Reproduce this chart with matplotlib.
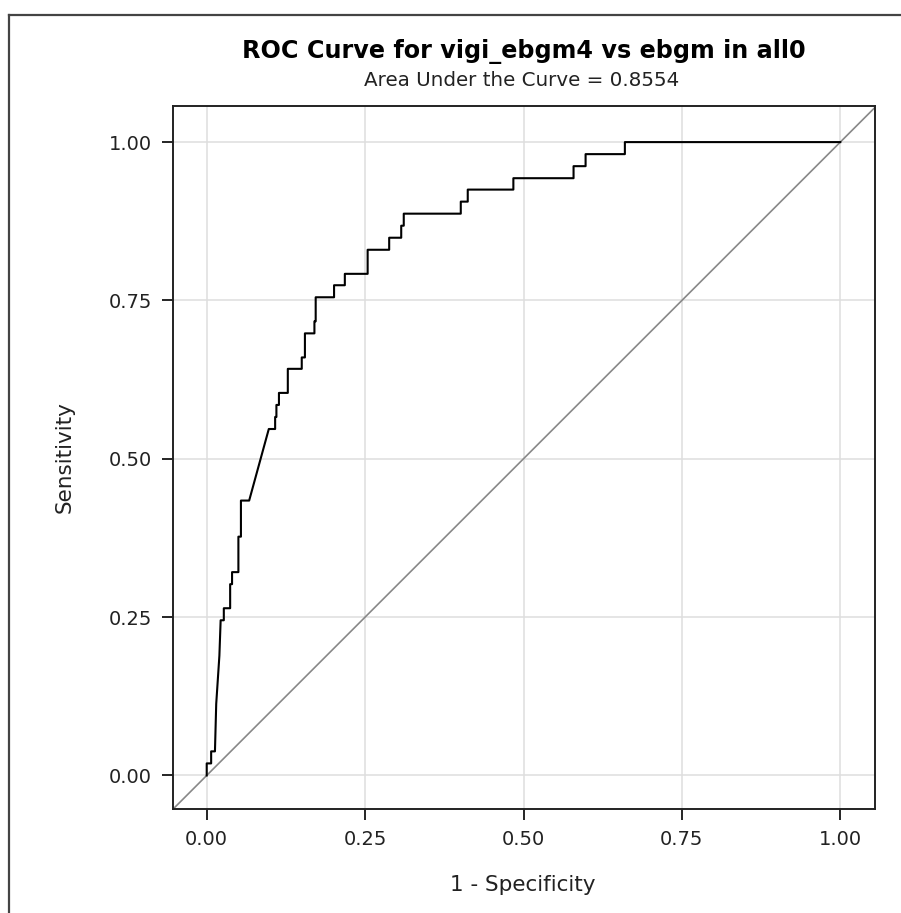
import matplotlib
matplotlib.use("Agg")
import matplotlib.pyplot as plt
from matplotlib.lines import Line2D

# ROC vertices (1 - specificity, sensitivity)
fpr = [0.000, 0.000, 0.007, 0.007, 0.013, 0.015, 0.020, 0.022, 0.027, 0.027,
       0.037, 0.037, 0.040, 0.040, 0.050, 0.050, 0.054, 0.054, 0.067, 0.098,
       0.108, 0.108, 0.110, 0.110, 0.114, 0.114, 0.128, 0.128, 0.150, 0.150,
       0.155, 0.155, 0.170, 0.170, 0.172, 0.172, 0.201, 0.201, 0.218, 0.218,
       0.254, 0.254, 0.288, 0.288, 0.307, 0.307, 0.311, 0.311, 0.401, 0.401,
       0.412, 0.412, 0.484, 0.484, 0.579, 0.579, 0.598, 0.598, 0.660, 0.660,
       1.000]
tpr = [0.000, 0.019, 0.019, 0.038, 0.038, 0.113, 0.189, 0.245, 0.245, 0.264,
       0.264, 0.302, 0.302, 0.321, 0.321, 0.377, 0.377, 0.434, 0.434, 0.547,
       0.547, 0.566, 0.566, 0.585, 0.585, 0.604, 0.604, 0.642, 0.642, 0.660,
       0.660, 0.698, 0.698, 0.717, 0.717, 0.755, 0.755, 0.774, 0.774, 0.792,
       0.792, 0.830, 0.830, 0.849, 0.849, 0.868, 0.868, 0.887, 0.887, 0.906,
       0.906, 0.925, 0.925, 0.943, 0.943, 0.962, 0.962, 0.981, 0.981, 1.000,
       1.000]
ticks = [0.0, 0.25, 0.5, 0.75, 1.0]
tick_labels = ["0.00", "0.25", "0.50", "0.75", "1.00"]
auc = 0.8554

W, H = 901, 913
fig = plt.figure(figsize=(W / 100, H / 100), dpi=100)
fig.patch.set_facecolor("white")

# outer frame (only top and left edges visible in the crop)
fig.add_artist(Line2D([9 / W, 1.0], [1 - 15 / H, 1 - 15 / H], transform=fig.transFigure,
                      color="#444444", lw=1.6))
fig.add_artist(Line2D([9 / W, 9 / W], [0.0, 1 - 15 / H], transform=fig.transFigure,
                      color="#444444", lw=1.6))

left, right, top, bottom = 172.5, 874.5, 106, 809
ax = fig.add_axes([left / W, (H - bottom) / H, (right - left) / W, (bottom - top) / H])

ax.axline((0, 0), (1, 1), color="#888888", lw=1.2, zorder=2)
ax.plot(fpr, tpr, color="black", lw=1.5, zorder=3)

ax.set_xlim(-0.054, 1.054)
ax.set_ylim(-0.053, 1.057)
ax.set_xticks(ticks)
ax.set_xticklabels(tick_labels)
ax.set_yticks(ticks)
ax.set_yticklabels(tick_labels)
ax.grid(color="#dedede", lw=1.1, zorder=0)
ax.set_axisbelow(True)
ax.tick_params(length=8, width=1.2, pad=7, labelsize=14, colors="black",
               labelcolor="#222222")
for sp in ax.spines.values():
    sp.set_linewidth(1.4)
    sp.set_color("#222222")

ax.set_xlabel("1 - Specificity", fontsize=15.5, color="#222222")
ax.set_ylabel("Sensitivity", fontsize=15.5, color="#222222")
ax.xaxis.set_label_coords((523 - left) / (right - left), -(885 - bottom) / (bottom - top))
ax.xaxis.label.set_va("center")
ax.yaxis.set_label_coords(-(left - 65) / (right - left), 0.5)
ax.yaxis.label.set_va("center")

fig.text(524 / W, 1 - 52 / H, "ROC Curve for vigi_ebgm4 vs ebgm in all0",
         ha="center", va="center", fontsize=17.2, fontweight="bold", color="black")
fig.text(522 / W, 1 - 81 / H, f"Area Under the Curve = {auc:.4f}",
         ha="center", va="center", fontsize=14.3, color="#222222")

fig.savefig("out.png", dpi=100)
